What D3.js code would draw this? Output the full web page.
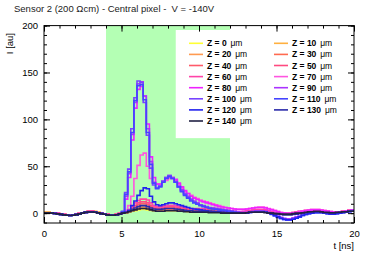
<!DOCTYPE html>
<html>
<head>
<meta charset="utf-8">
<script src="https://cdn.jsdelivr.net/npm/d3@7"></script>
<style>
body { margin: 0; background: #fff; }
text { font-family: "Liberation Sans", Arial, Helvetica, sans-serif; }
</style>
</head>
<body>
<svg width="374" height="254"></svg>
<script>
// pulse shapes, bins of 0.2 ns from 0 to 20 ns
var binWidth = 0.2;
var zLabels = [0, 10, 20, 30, 40, 50, 60, 70, 80, 90, 100, 110, 120, 130, 140];
var colors = ["#ffff33", "#ffb040", "#ff9a50", "#ff6a50", "#ff5a6a", "#ff4a80", "#ff44a8", "#ff55e0",
              "#ee22ff", "#aa33ff", "#7744ff", "#4444ff", "#2222ee", "#2a2aaa", "#222244"];
var xTicks = [0, 5, 10, 15, 20];
var yTicks = [0, 50, 100, 150, 200];
var band = [4, 12];

var z0 = [0.8,0.8,0.5,0.2,-0.3,-0.8,-1.3,-1.8,-2,-1.8, -1.2,-0.3,0.5,1.3,2,2.2,1.8,1,0,-0.8, -1.3,-1.8,-1.8,-1.3,-0.5,
  0,0.5,1,2,2.5, 3.5,4,4,3.5,3,2.5,2,2,2,2.5, 2.5,2.5,2.5,2,2,2,1.5,1.5,1.5,1.5, 1.5,1.5,2,2,2,2,1.5,1.5,1,1,
  1,0.5,0,0,0,0.5,1,1.5,2,2, 2,1.5,1,0.5,0,-0.5,-1,-1.5,-1.5,-1.5, -1,-0.5,0,0.5,1,1.5,2,2,2,1.5, 1,1,0.5,0.5,1,1,1.5,2,2.5,2.5];
var z10 = [0.8,0.8,0.5,0.2,-0.3,-0.8,-1.3,-1.8,-2,-1.8, -1.2,-0.3,0.5,1.3,2,2.2,1.8,1,0,-0.8, -1.3,-1.8,-1.8,-1.3,-0.5,
  0,0.5,1.5,2.5,3.5, 4.5,5,5,4.5,3.5,3,2.5,2.5,2.5,3, 3,3,3,2.5,2.5,2,2,2,2,2, 2,2,2.5,2.5,2.5,2.5,2,2,1.5,1,
  1,0.5,0,0,0,0.5,1,1.5,2,2, 2,1.5,1,0.5,0,-0.5,-1,-1.5,-1.5,-1.5, -1,-0.5,0,0.5,1,1.5,2,2,2,1.5, 1,1,0.5,0.5,1,1,1.5,2,2.5,2.5];
var z20 = [0.8,0.8,0.5,0.2,-0.3,-0.8,-1.3,-1.8,-2,-1.8, -1.2,-0.3,0.5,1.3,2,2.2,1.8,1,0,-0.8, -1.3,-1.8,-1.8,-1.3,-0.5,
  0,0.5,1.5,3,4, 5,6,6,5.5,4.5,3.5,3,3,3,3.5, 3.5,3.5,3.5,3,3,2.5,2.5,2.5,2.5,2.5, 2.5,2.5,3,3,3,3,2.5,2,1.5,1,
  1,0.5,0,0,0.5,1,1.5,2,2,2, 2,1.5,1,0.5,0,-0.5,-1,-1,-1,-1, -0.5,0,0.5,1,1.5,2,2,2,2,1.5, 1,1,0.5,0.5,1,1,1.5,2,2.5,2.5];
var z30 = [0.5,0.5,0.3,0,-0.5,-1,-1.5,-2,-2.3,-2, -1.5,-0.5,0.3,1,1.8,2,1.5,0.5,-0.3,-1, -1.5,-2,-2,-1.5,-0.5,
  0,1,2,4,5.5, 7,8,8,7,5.5,4.5,4,4,4,4.5, 4.5,4.5,4.5,4,3.5,3,3,3,3,3, 3,3,3.5,3.5,3.5,3.5,3,2.5,2,1.5,
  1,0.5,0,0,0.5,1,1.5,2,2.5,2.5, 2.5,2,1.5,0.5,0,-0.5,-1,-1,-1,-1, -0.5,0,0.5,1,1.5,2,2.5,2.5,2,1.5, 1,1,0.5,0.5,1,1,1.5,2,2.5,3];
var z40 = [0.5,0.5,0.3,0,-0.5,-1,-1.5,-2,-2.3,-2, -1.5,-0.5,0.3,1,1.8,2,1.5,0.5,-0.3,-1, -1.5,-2,-2,-1.5,-0.5,
  0,1,2.5,5,7, 9,10,10,9,7,5.5,5,5,5,5.5, 5.5,5.5,5.5,5,4.5,4,3.5,3.5,3.5,3.5, 3.5,3.5,4,4,4,4,3.5,3,2.5,2,
  1.5,1,0.5,0.5,1,1.5,2,2.5,3,3, 3,2.5,1.5,1,0,-0.5,-0.5,-1,-1,-0.5, 0,0.5,1,1.5,2,2.5,2.5,2.5,2,1.5, 1,1,0.5,0.5,1,1.5,2,2.5,3,3];
var z50 = [0.5,0.5,0.3,0,-0.5,-1,-1.5,-2,-2.3,-2, -1.5,-0.5,0.3,1,1.8,1.8,1.3,0.5,-0.3,-1, -1.5,-2,-2,-1.5,-0.5,
  0,1,3,6,8.5, 11,12,12,11,8.5,6.5,5.5,5.5,6,6.5, 7,7,6.5,6,5.5,5,4.5,4,4,4, 4,4,4.5,4.5,4.5,4.5,4,3.5,3,2.5,
  2,1.5,1,1,1.5,2,2.5,3,3.5,3.5, 3.5,3,2,1.5,0.5,0,-0.5,-0.5,-0.5,0, 0.5,1,1.5,2,2.5,3,3,3,2.5,2, 1.5,1,1,1,1,1.5,2,2.5,3,3];
var z60 = [0.5,0.5,0.3,0,-0.5,-1,-1.5,-2,-2.3,-2, -1.5,-0.5,0.3,1,1.8,1.8,1.3,0.5,-0.3,-1, -1.5,-2,-2,-1.5,-0.5,
  0,1.5,4,7.5,11, 13.5,15,15,14,11,8,7,7,7.5,8, 8.5,8.5,8,7.5,7,6,5.5,5,5,5, 5,5,5.5,5.5,5.5,5,4.5,4,3.5,3,
  2.5,2,1.5,1.5,2,2.5,3,3.5,4,4, 4,3.5,2.5,1.5,1,0.5,0,0,0,0.5, 1,1.5,2,2.5,3,3,3.5,3.5,3,2.5, 2,1.5,1,1,1,1.5,2,2.5,3,3.5];
var z70 = [0.5,0.5,0.3,0,-0.5,-1,-1.5,-2,-2.3,-2, -1.5,-0.5,0.3,1,1.8,1.8,1.3,0.5,-0.3,-1, -1.5,-2,-2,-1.5,-0.5,
  0.5,3,8,18,37, 51,62,64,50,37,32,31,31,33,35, 37,37,35,31,27,23,21,19,17,15.5, 14,13,12,11,10,9,8,7,6,5.5,
  5,4.5,4,4,4,4.5,5,5.5,6,6.5, 6.5,6,5,4,3,2,1,0.5,0,0, 0.5,1,2,2.5,3,3.5,4,4,4,3.5, 3,2.5,2,1.5,1.5,1.5,2,2.5,3,3.5];
var z80 = [0.5,0.5,0.3,0,-0.5,-1,-1.5,-2,-2.3,-2, -1.5,-0.5,0.3,1,1.8,1.8,1.3,0.5,-0.3,-1, -1.5,-2,-2,-1.5,-0.5,
  1,15,38,78,112, 132,135,125,95,60,38,31,31,34,37, 39,38,36,32,28,24,21,18,16,14.5, 13,12,11,10,9,8,7,6.5,6,5.5,
  5,4.5,4,4,4,4.5,5,5.5,6,6, 6,5.5,4.5,3.5,2.5,1.5,0.5,0,-0.5,-0.5, 0,0.5,1,2,2.5,3,3.5,3.5,3.5,3, 2.5,2,1.5,1,1,1,1.5,2,2.5,3];
var z90 = [0.3,0.3,0,-0.3,-0.8,-1.3,-1.8,-2.3,-2.5,-2.2, -1.6,-0.8,0,0.8,1.3,1.3,1,0.3,-0.5,-1.2, -1.8,-2.2,-2.2,-1.7,-0.8,
  1.5,18,42,84,118, 138,140,125,90,55,33,27,29,34,38, 40,38,34,29,25,21,18,15,13,11, 9,8,7,6,5.5,5,4.5,4,3.5,3,
  2.5,2,1.5,1,1,1,1.5,2,2.5,2.5, 2.5,2,1,0,-1.5,-3,-4.5,-5.5,-6,-6, -5,-4,-3,-1.5,-0.5,0.5,1,1.5,1.5,1.5, 1,0.5,0,0,0.5,1,1.5,2,2.5,3];
var z100 = [0.3,0.3,0,-0.3,-0.8,-1.3,-1.8,-2.3,-2.5,-2.2, -1.6,-0.8,0,0.8,1.3,1.3,1,0.3,-0.5,-1.2, -1.8,-2.2,-2.2,-1.7,-0.8,
  1.5,22,47,90,123, 141,139,118,83,48,30,27,29,34,38, 40,37,33,28,24,20,17,14,12,10, 8.5,7.5,6.5,5.5,5,4.5,4,3.5,3,2.5,
  2,1.5,1,0.5,0.5,0.5,1,1.5,2,2, 2,1.5,0.5,-1,-2.5,-4,-5.5,-6.5,-7,-7, -6,-5,-3.5,-2,-1,0,0.5,1,1,1, 0.5,0,-0.5,-0.5,0,0.5,1,1.5,2,2.5];
var z110 = [0.3,0.3,0,-0.3,-0.8,-1.3,-1.8,-2.3,-2.5,-2.2, -1.6,-0.8,0,0.8,1.3,1.3,1,0.3,-0.5,-1.2, -1.8,-2.2,-2.2,-1.7,-0.8,
  2,20,44,86,120, 136,137,121,86,52,32,26,28,33,37, 39,37,33,28,23,19,16,13,11,9.5, 8,7,6,5,4.5,4,3.5,3,2.5,2,
  1.5,1,0.5,0,0,0,0.5,1,1.5,1.5, 1.5,1,0,-1.5,-3,-4.5,-6,-7,-7.5,-7.5, -6.5,-5.5,-4,-2.5,-1.5,-0.5,0,0.5,0.5,0.5, 0,-0.5,-1,-1,-0.5,0,0.5,1,1.5,2];
var z120 = [0.3,0.3,0,-0.3,-0.8,-1.3,-1.8,-2.3,-2.5,-2.2, -1.6,-0.8,0,0.8,1.3,1.3,1,0.3,-0.5,-1.2, -1.8,-2.2,-2.2,-1.7,-0.8,
  0,1,3,8,13, 19,24,27,26,18,12,9,8,9,10, 11,11,10,9,8,7,6,5,4.5,4, 3.5,3,2.5,2,2,1.5,1.5,1,1,0.5,
  0.5,0,0,0,0,0.5,1,1,1.5,1.5, 1.5,1,0,-1,-2.5,-4,-5.5,-6.5,-7,-7, -6.5,-5.5,-4,-2.5,-1.5,-0.5,0,0.5,0.5,0.5, 0,-0.5,-1,-1,-0.5,0,0.5,1,1.5,2];
var z130 = [0.3,0.3,0,-0.3,-0.8,-1.3,-1.8,-2.3,-2.5,-2.2, -1.6,-0.8,0,0.8,1.3,1.3,1,0.3,-0.5,-1.2, -1.8,-2.2,-2.2,-1.7,-0.8,
  0,1,2,4,5.5, 7,8,8,7,5.5,4.5,4,4,4.5,5, 5,5,4.5,4,3.5,3,2.5,2.5,2,2, 2,2,2,2,1.5,1.5,1,1,0.5,0.5,
  0.5,0,0,0,0,0.5,1,1,1.5,1.5, 1.5,1,0.5,0,-0.5,-1,-1.5,-2,-2,-2, -1.5,-1,-0.5,0,0.5,1,1.5,1.5,1.5,1, 0.5,0.5,0,0,0.5,1,1,1.5,2,2];
var z140 = [0.3,0.3,0,-0.3,-0.8,-1.3,-1.8,-2.3,-2.5,-2.2, -1.6,-0.8,0,0.8,1.3,1.3,1,0.3,-0.5,-1.2, -1.8,-2.2,-2.2,-1.7,-0.8,
  0,0.5,1.5,2.5,3.5, 4.5,5,5,4.5,3.5,2.5,2,2,2,2.5, 2.5,2.5,2.5,2,2,1.5,1.5,1,1,1, 1,1,1,0.5,0.5,0.5,0.5,0,0,0,
  0,0,0,0,0,0.5,1,1,1,1, 1,0.5,0,0,-0.5,-0.5,-1,-1,-1,-1, -0.5,0,0,0.5,1,1.5,1.5,2,2,1.5, 1,1,0.5,0.5,1,1,1.5,1.5,2,2];

var series = [z0, z10, z20, z30, z40, z50, z60, z70, z80, z90, z100, z110, z120, z130, z140];

var svg = d3.select("svg"),
    margin = {top: 25.6, right: 20, bottom: 31, left: 44},
    width = 374 - margin.left - margin.right,
    height = 254 - margin.top - margin.bottom;

var x = d3.scaleLinear().domain([0, 20]).range([margin.left, margin.left + width]),
    y = d3.scaleLinear().domain([-10.5, 200]).range([margin.top + height, margin.top]);

svg.append("text")
    .attr("x", 14).attr("y", 11.5)
    .attr("font-size", "9.5px").attr("fill", "#222")
    .style("white-space", "pre")
    .text("Sensor 2 (200 \u03A9cm) - Central pixel - \u00A0V = -140V");

svg.append("defs").append("clipPath").attr("id", "frame")
  .append("rect").attr("x", x(0)).attr("y", y(200)).attr("width", width).attr("height", height);

// green window
svg.append("rect")
    .attr("x", x(band[0])).attr("y", y(200))
    .attr("width", x(band[1]) - x(band[0])).attr("height", height)
    .attr("fill", "#b4ffb4");

var line = d3.line()
    .x(function(d) { return x(d[0]); })
    .y(function(d) { return y(d[1]); })
    .curve(d3.curveStepAfter);

var g = svg.append("g").attr("clip-path", "url(#frame)");
series.forEach(function(vals, i) {
  var pts = vals.map(function(v, k) { return [k * binWidth, v]; });
  pts.push([20, vals[vals.length - 1]]);
  g.append("path")
      .datum(pts)
      .attr("d", line)
      .attr("fill", "none")
      .attr("stroke", colors[i])
      .attr("stroke-width", 1.6);
});

// legend (white box like ROOT TLegend)
var lg = svg.append("g");
lg.append("rect").attr("x", x(8.5)).attr("y", 30).attr("width", 172).attr("height", y(80) - 30).attr("fill", "#fff");
zLabels.forEach(function(z, i) {
  var col = i % 2, row = Math.floor(i / 2);
  var lx = col ? 274 : 189, ly = 43.3 + row * 11.1;
  lg.append("line").attr("x1", lx).attr("x2", lx + 14).attr("y1", ly).attr("y2", ly)
      .attr("stroke", colors[i]).attr("stroke-width", 1.6);
  var t = lg.append("text").attr("x", lx + 18).attr("y", ly + 3)
      .attr("font-size", "8.5px").attr("font-weight", "bold");
  t.append("tspan").text("Z = " + z + " ");
  t.append("tspan").attr("font-weight", "normal").attr("dx", 1.5).text("\u03BCm");
});

// axes, ROOT style ticks inside on all four sides
var ax = svg.append("g").attr("font-size", "9.5px");
function styleAxis(sel) {
  sel.select(".domain").remove();
  sel.selectAll(".tick line").attr("stroke", "#000");
  sel.selectAll("text").attr("fill", "#000").style("font-family", "'Liberation Sans', Arial, sans-serif").style("font-size", "9.5px");
}
ax.append("g").attr("transform", "translate(0," + y(-10.5) + ")")
    .call(d3.axisBottom(x).tickValues(xTicks).tickSize(-6).tickPadding(7)).call(styleAxis);
ax.append("g").attr("transform", "translate(0," + y(-10.5) + ")")
    .call(d3.axisBottom(x).tickValues(d3.range(0, 21, 1)).tickSize(-3).tickFormat("")).call(styleAxis);
ax.append("g").attr("transform", "translate(0," + y(200) + ")")
    .call(d3.axisTop(x).tickValues(xTicks).tickSize(-6).tickFormat("")).call(styleAxis);
ax.append("g").attr("transform", "translate(0," + y(200) + ")")
    .call(d3.axisTop(x).tickValues(d3.range(0, 21, 1)).tickSize(-3).tickFormat("")).call(styleAxis);
ax.append("g").attr("transform", "translate(" + x(0) + ",0)")
    .call(d3.axisLeft(y).tickValues(yTicks).tickSize(-6).tickPadding(6)).call(styleAxis);
ax.append("g").attr("transform", "translate(" + x(0) + ",0)")
    .call(d3.axisLeft(y).tickValues(d3.range(-10, 201, 10)).tickSize(-3).tickFormat("")).call(styleAxis);
ax.append("g").attr("transform", "translate(" + x(20) + ",0)")
    .call(d3.axisRight(y).tickValues(yTicks).tickSize(-6).tickFormat("")).call(styleAxis);
ax.append("g").attr("transform", "translate(" + x(20) + ",0)")
    .call(d3.axisRight(y).tickValues(d3.range(-10, 201, 10)).tickSize(-3).tickFormat("")).call(styleAxis);

svg.append("rect")
    .attr("x", x(0)).attr("y", y(200)).attr("width", width).attr("height", height)
    .attr("fill", "none").attr("stroke", "#000").attr("stroke-width", 1);

svg.append("text")
    .attr("x", x(20)).attr("y", 249).attr("text-anchor", "end")
    .attr("font-size", "9.5px").text("t [ns]");
svg.append("text")
    .attr("transform", "translate(13," + 33 + ") rotate(-90)").attr("text-anchor", "end")
    .attr("font-size", "9.5px").text("I [au]");
</script>
</body>
</html>
